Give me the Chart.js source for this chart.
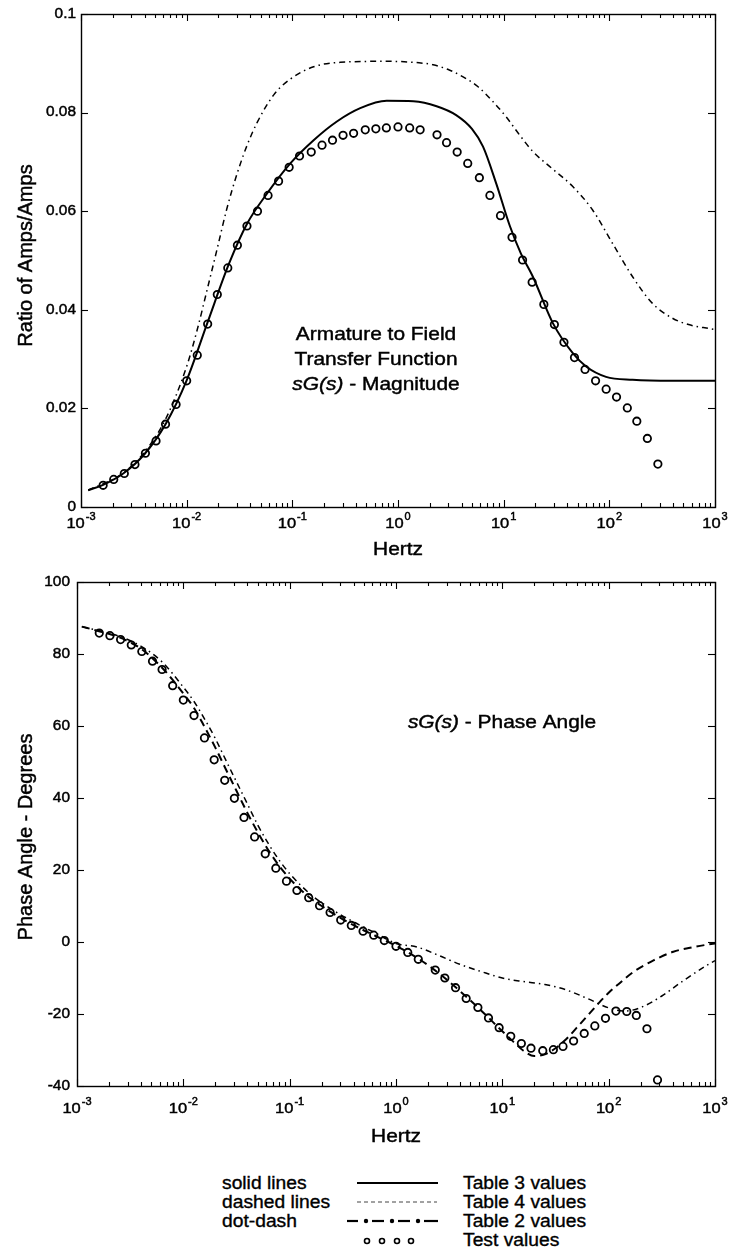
<!DOCTYPE html>
<html>
<head>
<meta charset="utf-8">
<title>Armature to Field Transfer Function sG(s)</title>
<script src="https://cdn.jsdelivr.net/npm/chart.js@4/dist/chart.umd.min.js"></script>
<style>
  html, body { margin: 0; padding: 0; background: #fff; }
  body { width: 731px; height: 1252px; position: relative; overflow: hidden;
         font-family: "Liberation Sans", Arial, Helvetica, sans-serif; color: #000; }
  canvas { position: absolute; left: 0; }
  .lg { position: absolute; font-size: 17.5px; line-height: 20px; white-space: nowrap;
        transform: scaleX(1.1); transform-origin: left center; -webkit-text-stroke: 0.35px #000; }
  #keys { position: absolute; left: 0; top: 1165px; }
</style>
</head>
<body>
<canvas id="magChart" width="731" height="565" style="top:0;width:731px;height:565px"></canvas>
<canvas id="phaseChart" width="731" height="600" style="top:565px;width:731px;height:600px"></canvas>

<svg id="keys" width="731" height="87" viewBox="0 0 731 87">
  <line x1="357" y1="18" x2="438" y2="18" stroke="#000" stroke-width="2.2"/>
  <line x1="357" y1="37" x2="437" y2="37" stroke="#444" stroke-width="1" stroke-dasharray="4 3"/>
  <g stroke="#000" stroke-width="2.2">
    <line x1="347" y1="56" x2="358" y2="56"/>
    <line x1="372" y1="56" x2="384" y2="56"/>
    <line x1="398" y1="56" x2="410" y2="56"/>
    <line x1="424" y1="56" x2="438" y2="56"/>
  </g>
  <g fill="#000">
    <circle cx="366" cy="56" r="2.2"/>
    <circle cx="392" cy="56" r="2.2"/>
    <circle cx="418" cy="56" r="2.2"/>
  </g>
  <g fill="none" stroke="#000" stroke-width="1.6">
    <circle cx="367" cy="76" r="2.5"/>
    <circle cx="382" cy="76" r="2.5"/>
    <circle cx="397" cy="76" r="2.5"/>
    <circle cx="411" cy="76" r="2.5"/>
  </g>
</svg>
<div class="lg" style="left:222px;top:1173px">solid lines</div>
<div class="lg" style="left:222px;top:1192px">dashed lines</div>
<div class="lg" style="left:222px;top:1211px">dot-dash</div>
<div class="lg" style="left:463px;top:1173px">Table 3 values</div>
<div class="lg" style="left:463px;top:1192px">Table 4 values</div>
<div class="lg" style="left:463px;top:1211px">Table 2 values</div>
<div class="lg" style="left:463px;top:1230px">Test values</div>

<script>
// ---------------- data ----------------
// Test frequencies (Hz), shared by the magnitude and phase measurements
const testFreq = [
  0.00162, 0.00204, 0.00257, 0.00324, 0.00407, 0.00513, 0.00631, 0.00794, 0.0100, 0.0126,
  0.0158, 0.0195, 0.0245, 0.0302, 0.0372, 0.0468, 0.0589, 0.0741, 0.0933, 0.117,
  0.151, 0.191, 0.240, 0.302, 0.380, 0.490, 0.617, 0.776, 1.00, 1.29,
  1.62, 2.34, 2.88, 3.63, 4.57, 5.89, 7.41, 9.33, 12.0, 15.1,
  18.6, 24.0, 30.2, 37.2, 46.8, 58.9, 74.1, 93.3, 117, 148,
  182, 229, 288
];
// Measured magnitude, amps/amps
const testMag = [
  0.0044, 0.0056, 0.0068, 0.0086, 0.0109, 0.0134, 0.0168, 0.0208, 0.0256, 0.0308,
  0.0371, 0.0431, 0.0485, 0.0531, 0.0570, 0.0600, 0.0632, 0.0661, 0.0689, 0.0712,
  0.0720, 0.0734, 0.0744, 0.0754, 0.0758, 0.0765, 0.0767, 0.0769, 0.0771, 0.0769,
  0.0765, 0.0755, 0.0739, 0.0720, 0.0697, 0.0668, 0.0632, 0.0591, 0.0547, 0.0501,
  0.0456, 0.0411, 0.0370, 0.0334, 0.0303, 0.0279, 0.0256, 0.0239, 0.0223, 0.0201,
  0.0174, 0.0139, 0.0087
];
// Measured phase, degrees
const testPhase = [
  85.8, 85.1, 84.0, 82.5, 80.7, 78.0, 75.7, 71.2, 67.2, 62.9,
  56.7, 50.6, 44.9, 39.9, 34.6, 29.2, 24.5, 20.5, 16.9, 14.3,
  12.3, 10.1, 8.2, 6.1, 4.6, 3.0, 1.9, 0.4, -1.2, -2.9,
  -4.8, -7.8, -10.0, -12.7, -15.7, -18.2, -21.1, -23.8, -26.2, -28.2,
  -29.5, -30.2, -29.9, -29.0, -27.5, -25.4, -23.3, -21.2, -19.2, -19.3,
  -20.4, -24.1, -38.3
];

// Table 3 magnitude (solid)
const table3MagFreq = [
  0.00117, 0.00162, 0.00251, 0.00398, 0.00631, 0.0100, 0.0158, 0.0251, 0.0374, 0.0577,
  0.0957, 0.159, 0.264, 0.439, 0.782, 1.40, 2.32, 3.55, 5.01, 6.38,
  8.51, 11.4, 14.5, 18.9, 29.2, 45.1, 60.3, 93.1, 166, 398, 1000
];
const table3Mag = [
  0.0034, 0.0045, 0.0068, 0.0107, 0.0168, 0.0257, 0.0375, 0.0493, 0.0575, 0.0636,
  0.0697, 0.0744, 0.0782, 0.0809, 0.0824, 0.0823, 0.0813, 0.0795, 0.0767, 0.0731,
  0.0656, 0.0571, 0.0515, 0.0467, 0.0373, 0.0312, 0.0285, 0.0264, 0.0258, 0.0256, 0.0256
];

// Table 2 magnitude (dot-dash)
const table2MagFreq = [
  0.00117, 0.00251, 0.00398, 0.00631, 0.0100, 0.0126, 0.0158, 0.0195, 0.0240, 0.0301,
  0.0372, 0.0465, 0.0667, 0.0957, 0.159, 0.284, 0.782, 1.58, 2.15, 3.09,
  4.17, 5.69, 7.94, 10.5, 14.1, 18.9, 28.2, 45.1, 69.7, 107,
  166, 256, 395, 562, 877, 1000
];
const table2Mag = [
  0.0034, 0.0069, 0.0111, 0.0178, 0.0285, 0.0360, 0.0445, 0.0525, 0.0605, 0.0677,
  0.0733, 0.0780, 0.0836, 0.0868, 0.0893, 0.0902, 0.0904, 0.0901, 0.0897, 0.0886,
  0.0872, 0.0853, 0.0822, 0.0792, 0.0755, 0.0721, 0.0688, 0.0650, 0.0602, 0.0535,
  0.0467, 0.0413, 0.0383, 0.0370, 0.0362, 0.0360
];

// Table 4 phase (dashed)
const table4PhaseFreq = [
  0.00111, 0.00158, 0.00251, 0.00398, 0.00603, 0.00794, 0.0100, 0.0126, 0.0158, 0.0200,
  0.0251, 0.0316, 0.0398, 0.0501, 0.0631, 0.0794, 0.100, 0.126, 0.158, 0.200,
  0.251, 0.316, 0.398, 0.501, 0.631, 0.794, 1.00, 1.58, 2.51, 3.98,
  6.31, 10.0, 12.6, 15.8, 20.0, 25.1, 31.6, 39.8, 50.1, 63.1,
  79.4, 100, 126, 171, 264, 406, 627, 1000
];
const table4Phase = [
  87.6, 86.4, 84.6, 81.5, 76.8, 72.8, 69.0, 65.0, 59.8, 54.0,
  48.0, 42.0, 36.0, 30.5, 25.5, 21.2, 17.6, 14.6, 12.1, 10.0,
  8.1, 6.3, 4.7, 3.2, 1.8, 0.4, -1.0, -4.4, -8.6, -13.6,
  -19.0, -24.8, -27.6, -30.2, -31.7, -31.2, -29.5, -27.0, -23.8, -20.5,
  -17.2, -14.1, -11.5, -8.3, -5.1, -2.7, -1.4, -0.4
];

// Table 2 phase (dot-dash)
const table2PhaseFreq = [
  0.00111, 0.00158, 0.00251, 0.00398, 0.00631, 0.0100, 0.0126, 0.0158, 0.0200, 0.0251,
  0.0316, 0.0398, 0.0501, 0.0631, 0.0794, 0.100, 0.158, 0.251, 0.398, 0.631,
  1.00, 1.58, 2.51, 3.98, 6.31, 10.0, 15.8, 25.1, 39.8, 63.1,
  100, 141, 200, 316, 501, 891, 1000
];
const table2Phase = [
  87.6, 86.5, 84.9, 82.2, 77.8, 70.8, 66.8, 62.0, 56.5, 50.5,
  44.5, 38.5, 32.5, 27.3, 22.8, 19.0, 13.2, 9.0, 5.6, 2.6,
  -0.4, -1.4, -3.7, -6.2, -8.2, -10.0, -11.0, -11.8, -13.3, -15.7,
  -18.3, -19.2, -18.2, -15.0, -10.8, -6.0, -5.2
];

// Axis ticks
const decadeExponents = [-3, -2, -1, 0, 1, 2, 3];
const magTickValues = [0, 0.02, 0.04, 0.06, 0.08, 0.1];
const magTickLabels = ['0', '0.02', '0.04', '0.06', '0.08', '0.1'];
const phaseTickValues = [-40, -20, 0, 20, 40, 60, 80, 100];
const phaseTickLabels = ['-40', '-20', '0', '20', '40', '60', '80', '100'];

// ---------------- drawing helpers ----------------
const FONT = '"Liberation Sans", Arial, Helvetica, sans-serif';
const STRETCH = 1.1;
const INK = 0.45;   // outline added to glyphs for a heavier print look

function pairs(xs, ys) { return xs.map((x, i) => ({ x: x, y: ys[i] })); }

// Draws a run of text pieces (some italic) with a slight horizontal widening.
function drawRun(ctx, parts, x, y, size, align, baseline) {
  ctx.save();
  ctx.textBaseline = baseline || 'alphabetic';
  ctx.textAlign = 'left';
  const widths = parts.map(p => {
    ctx.font = (p.italic ? 'italic ' : '') + size + 'px ' + FONT;
    return ctx.measureText(p.text).width * STRETCH;
  });
  const total = widths.reduce((a, b) => a + b, 0);
  let cx = align === 'center' ? x - total / 2 : align === 'right' ? x - total : x;
  parts.forEach((p, i) => {
    ctx.font = (p.italic ? 'italic ' : '') + size + 'px ' + FONT;
    ctx.save();
    ctx.translate(cx, y);
    ctx.scale(STRETCH, 1);
    ctx.fillText(p.text, 0, 0);
    ctx.lineWidth = INK;
    ctx.strokeText(p.text, 0, 0);
    ctx.restore();
    cx += widths[i];
  });
  ctx.restore();
  return total;
}

function seg(ctx, x1, y1, x2, y2) {
  ctx.beginPath(); ctx.moveTo(x1, y1); ctx.lineTo(x2, y2); ctx.stroke();
}

// Box, inward ticks, tick labels, axis titles and notes
const axesFrame = {
  id: 'axesFrame',
  afterDatasetsDraw(chart, args, o) {
    const ctx = chart.ctx, a = chart.chartArea;
    const xs = chart.scales.x, ys = chart.scales.y;
    ctx.save();
    ctx.fillStyle = '#000';
    ctx.strokeStyle = '#000';
    ctx.lineWidth = 1.4;
    ctx.strokeRect(a.left + 0.5, a.top + 0.5, a.right - a.left, a.bottom - a.top);

    // x ticks, major at decades and minor in between, top and bottom
    ctx.lineWidth = 1.1;
    decadeExponents.forEach(e => {
      for (let m = 1; m <= 9; m++) {
        if (e === 3 && m > 1) break;
        const px = Math.round(xs.getPixelForValue(m * Math.pow(10, e))) + 0.5;
        const len = m === 1 ? 7 : 4;
        seg(ctx, px, a.bottom, px, a.bottom - len);
        seg(ctx, px, a.top, px, a.top + len);
      }
    });
    // y ticks, left and right
    o.yTicks.forEach(v => {
      const py = Math.round(ys.getPixelForValue(v)) + 0.5;
      seg(ctx, a.left, py, a.left + 7, py);
      seg(ctx, a.right, py, a.right - 7, py);
    });

    // y tick labels
    o.yTicks.forEach((v, i) => {
      drawRun(ctx, [{ text: o.yLabels[i] }], a.left - o.yLabelGap, ys.getPixelForValue(v), 14, 'right', 'middle');
    });

    // x tick labels: 10 with a raised exponent, centred as one label
    decadeExponents.forEach(e => {
      const px = xs.getPixelForValue(Math.pow(10, e));
      ctx.font = '15px ' + FONT;
      const wBase = ctx.measureText('10').width * STRETCH;
      ctx.font = '10px ' + FONT;
      const wExp = ctx.measureText(String(e)).width * STRETCH;
      const left = px - (wBase + wExp + 1) / 2;
      const base = a.bottom + o.xLabelDrop;
      drawRun(ctx, [{ text: '10' }], left, base, 15, 'left');
      drawRun(ctx, [{ text: String(e) }], left + wBase + 1, base - 8, 10, 'left');
    });

    // axis titles
    drawRun(ctx, [{ text: o.xTitle }], (a.left + a.right) / 2, o.xTitleY, 19, 'center', 'middle');
    ctx.save();
    ctx.translate(o.yTitleX, (a.top + a.bottom) / 2 + o.yTitleShift);
    ctx.rotate(-Math.PI / 2);
    ctx.font = '20px ' + FONT;
    ctx.textAlign = 'center';
    ctx.textBaseline = 'middle';
    ctx.fillText(o.yTitle, 0, 0);
    ctx.lineWidth = INK;
    ctx.strokeText(o.yTitle, 0, 0);
    ctx.restore();

    // notes inside the plot
    o.notes.forEach(n => drawRun(ctx, n.parts, n.x, n.y, 19, 'center', 'middle'));
    ctx.restore();
  }
};

function lineSet(xs, ys, width, dash) {
  return {
    data: pairs(xs, ys), showLine: true, fill: false,
    borderColor: '#000', borderWidth: width, borderDash: dash,
    pointRadius: 0, cubicInterpolationMode: 'monotone'
  };
}
function pointSet(xs, ys) {
  return {
    data: pairs(xs, ys), showLine: false,
    pointStyle: 'circle', pointRadius: 3.7, pointBorderWidth: 1.8,
    borderColor: '#000', backgroundColor: 'rgba(0,0,0,0)'
  };
}

function baseOptions(padding, yMin, yMax, frame) {
  return {
    responsive: false, animation: false, events: [],
    layout: { padding: padding },
    scales: {
      x: { type: 'logarithmic', min: 0.001, max: 1000, display: false },
      y: { type: 'linear', min: yMin, max: yMax, display: false }
    },
    plugins: { legend: { display: false }, tooltip: { enabled: false }, axesFrame: frame }
  };
}

// ---------------- magnitude ----------------
new Chart(document.getElementById('magChart'), {
  type: 'scatter',
  data: {
    datasets: [
      pointSet(testFreq, testMag),
      lineSet(table3MagFreq, table3Mag, 2, []),
      lineSet(table2MagFreq, table2Mag, 1.5, [6, 4, 1.5, 4])
    ]
  },
  options: baseOptions({ left: 81, right: 16, top: 14, bottom: 58 }, 0, 0.1, {
    yTicks: magTickValues, yLabels: magTickLabels, yLabelGap: 5,
    xLabelDrop: 21, xTitle: 'Hertz', xTitleY: 550,
    yTitle: 'Ratio of Amps/Amps', yTitleX: 26, yTitleShift: -5,
    notes: [
      { x: 376, y: 335, parts: [{ text: 'Armature to Field' }] },
      { x: 376, y: 360, parts: [{ text: 'Transfer Function' }] },
      { x: 376, y: 385, parts: [{ text: 'sG(s)', italic: true }, { text: ' - Magnitude' }] }
    ]
  }),
  plugins: [axesFrame]
});

// ---------------- phase ----------------
new Chart(document.getElementById('phaseChart'), {
  type: 'scatter',
  data: {
    datasets: [
      pointSet(testFreq, testPhase),
      lineSet(table4PhaseFreq, table4Phase, 2, [8, 5]),
      lineSet(table2PhaseFreq, table2Phase, 1.5, [6, 4, 1.5, 4])
    ]
  },
  options: baseOptions({ left: 77, right: 16, top: 17, bottom: 79 }, -40, 100, {
    yTicks: phaseTickValues, yLabels: phaseTickLabels, yLabelGap: 7,
    xLabelDrop: 27, xTitle: 'Hertz', xTitleY: 572,
    yTitle: 'Phase Angle - Degrees', yTitleX: 26, yTitleShift: 3,
    notes: [
      { x: 502, y: 158, parts: [{ text: 'sG(s)', italic: true }, { text: ' - Phase Angle' }] }
    ]
  }),
  plugins: [axesFrame]
});
</script>
</body>
</html>
